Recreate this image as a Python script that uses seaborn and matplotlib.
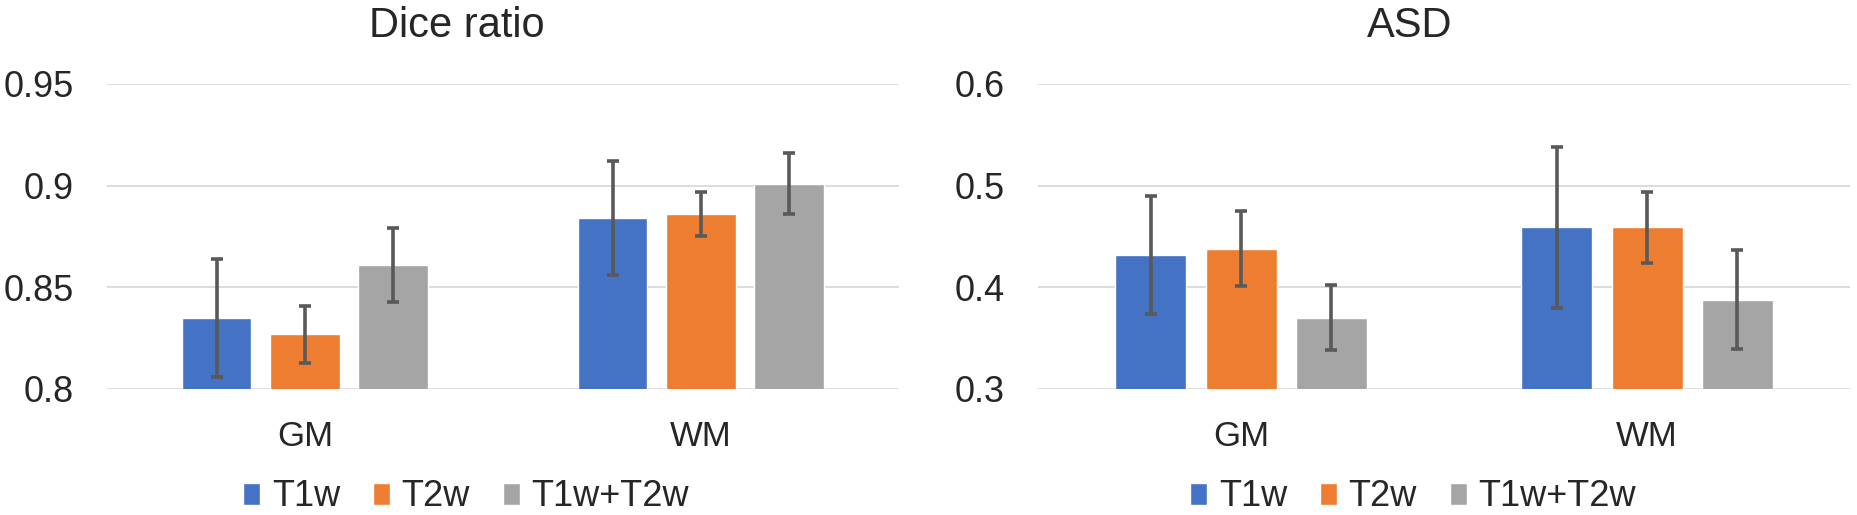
import numpy as np
import pandas as pd
import seaborn as sns
import matplotlib.pyplot as plt
from matplotlib.patches import Patch

# values
tissues = ["GM", "WM"]
inputs = ["T1w", "T2w", "T1w+T2w"]
colors = ["#4472C4", "#ED7D31", "#A5A5A5"]

# per input: [GM, WM]
dice_mean = {"T1w": [0.835, 0.884], "T2w": [0.827, 0.886], "T1w+T2w": [0.861, 0.901]}
dice_err = {"T1w": [0.029, 0.028], "T2w": [0.014, 0.011], "T1w+T2w": [0.018, 0.015]}
asd_mean = {"T1w": [0.432, 0.459], "T2w": [0.438, 0.459], "T1w+T2w": [0.370, 0.388]}
asd_err = {"T1w": [0.058, 0.079], "T2w": [0.037, 0.035], "T1w+T2w": [0.032, 0.049]}

dice_ticks = [0.8, 0.85, 0.9, 0.95]
asd_ticks = [0.3, 0.4, 0.5, 0.6]

sns.set_style("white")
plt.rcParams['font.family'] = ['Liberation Sans', 'DejaVu Sans']


def long_df(means):
    rows = []
    for inp in inputs:
        for t, v in zip(tissues, means[inp]):
            rows.append({"tissue": t, "input": inp, "value": v})
    return pd.DataFrame(rows)


def draw_panel(ax, means, errs, ticks, title, title_x, legend_x):
    df = long_df(means)
    sns.barplot(data=df, x="tissue", y="value", hue="input", order=tissues,
                hue_order=inputs, palette=colors, width=0.667, gap=0.215,
                saturation=1, legend=False, errorbar=None, ax=ax, zorder=2)
    # error bars at the bar centres seaborn laid out
    for cont, inp in zip(ax.containers, inputs):
        xs = [p.get_x() + p.get_width() / 2 for p in cont.patches]
        hs = [p.get_height() for p in cont.patches]
        ax.errorbar(xs, hs, yerr=errs[inp], fmt="none", ecolor="#595959",
                    elinewidth=2.6, capsize=4.3, capthick=2.6, zorder=3)
    ax.set_ylim(ticks[0], ticks[-1])
    ax.set_xlim(-0.5, 1.5)
    ax.set_yticks(ticks)
    ax.set_yticklabels([f"{t:g}" for t in ticks])
    ax.yaxis.grid(True, color="#D9D9D9", linewidth=1.3, zorder=0)
    ax.set_axisbelow(True)
    for s in ax.spines.values():
        s.set_visible(False)
    ax.tick_params(axis="y", length=0, pad=24, labelsize=26)
    ax.tick_params(axis="x", length=0, pad=22, labelsize=25)
    ax.set_xlabel("")
    ax.set_ylabel("")
    ax.set_title(title, fontsize=30, pad=34, x=title_x)
    handles = [Patch(facecolor=c, label=l) for c, l in zip(colors, inputs)]
    ax.figure.legend(handles=handles, loc="center", bbox_to_anchor=(legend_x, 0.035),
                     ncol=3, frameon=False, fontsize=26, handlelength=0.47,
                     handleheight=0.55, handletextpad=0.33, columnspacing=0.9)


fig = plt.figure(figsize=(18.57, 5.15), dpi=100)
ax1 = fig.add_axes([0.0576, 0.2447, 0.4265, 0.5922])
ax2 = fig.add_axes([0.559, 0.2447, 0.4373, 0.5922])

draw_panel(ax1, dice_mean, dice_err, dice_ticks, "Dice ratio", 0.442, 0.251)
draw_panel(ax2, asd_mean, asd_err, asd_ticks, "ASD", 0.457, 0.761)

plt.savefig("out.png", dpi=100)
